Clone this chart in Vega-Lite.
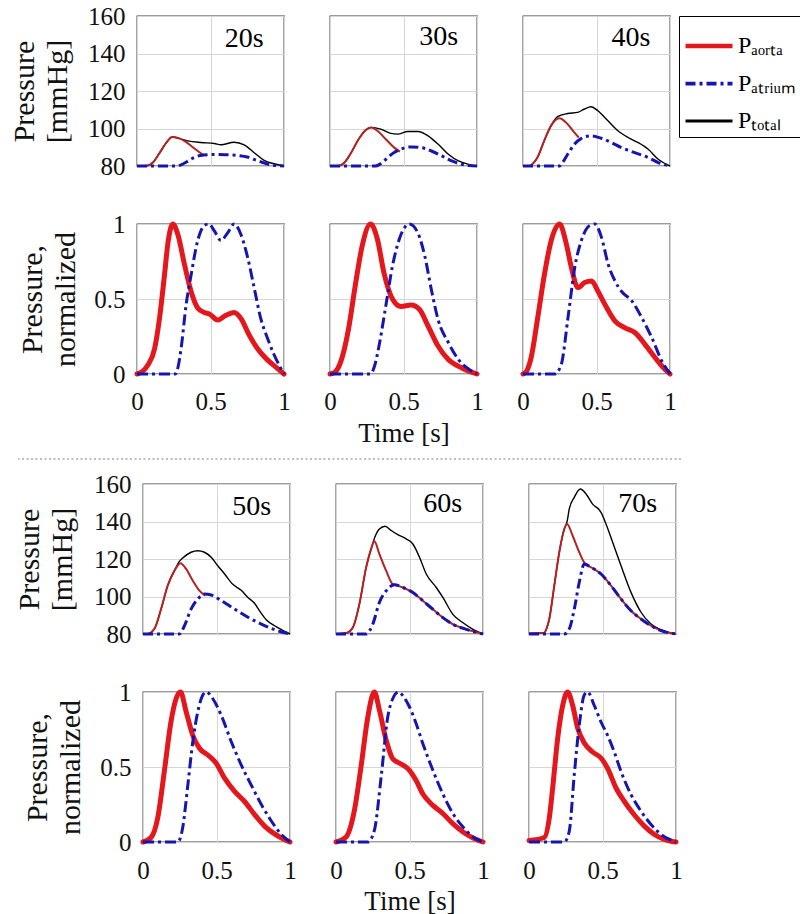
{
  "$schema": "https://vega.github.io/schema/vega-lite/v6.json",
  "background": "white",
  "padding": {"left": 7, "top": 3, "right": 2, "bottom": 0},
  "datasets": {
    "labels": [
      {"panel": "20s", "time": 0.73, "p": 147.5},
      {"panel": "30s", "time": 0.74, "p": 149},
      {"panel": "40s", "time": 0.735, "p": 148.2},
      {"panel": "50s", "time": 0.74, "p": 147.7},
      {"panel": "60s", "time": 0.726, "p": 149.5},
      {"panel": "70s", "time": 0.74, "p": 149.5}
    ],
    "a20": [
      {"series": "aorta", "time": 0, "p": 80}, {"series": "aorta", "time": 0.05, "p": 80}, {"series": "aorta", "time": 0.08, "p": 80.4}, {"series": "aorta", "time": 0.11, "p": 82}, {"series": "aorta", "time": 0.15, "p": 86.5}, {"series": "aorta", "time": 0.2, "p": 92.5}, {"series": "aorta", "time": 0.24, "p": 95.5}, {"series": "aorta", "time": 0.28, "p": 95}, {"series": "aorta", "time": 0.33, "p": 93}, {"series": "aorta", "time": 0.38, "p": 90}, {"series": "aorta", "time": 0.42, "p": 87.6}, {"series": "aorta", "time": 0.45, "p": 86},
      {"series": "total", "time": 0, "p": 80}, {"series": "total", "time": 0.05, "p": 80}, {"series": "total", "time": 0.08, "p": 80.4}, {"series": "total", "time": 0.11, "p": 82}, {"series": "total", "time": 0.15, "p": 86.5}, {"series": "total", "time": 0.2, "p": 92.5}, {"series": "total", "time": 0.24, "p": 95.5}, {"series": "total", "time": 0.29, "p": 94.6}, {"series": "total", "time": 0.345, "p": 93.4}, {"series": "total", "time": 0.436, "p": 92.5}, {"series": "total", "time": 0.526, "p": 92}, {"series": "total", "time": 0.571, "p": 91.3}, {"series": "total", "time": 0.661, "p": 92.7}, {"series": "total", "time": 0.729, "p": 91.3}, {"series": "total", "time": 0.797, "p": 87.1}, {"series": "total", "time": 0.865, "p": 83}, {"series": "total", "time": 0.932, "p": 81.2}, {"series": "total", "time": 1, "p": 80},
      {"series": "atrium", "time": 0, "p": 80}, {"series": "atrium", "time": 0.27, "p": 80}, {"series": "atrium", "time": 0.3, "p": 80.6}, {"series": "atrium", "time": 0.34, "p": 82.3}, {"series": "atrium", "time": 0.38, "p": 84.2}, {"series": "atrium", "time": 0.43, "p": 85.6}, {"series": "atrium", "time": 0.5, "p": 86.1}, {"series": "atrium", "time": 0.6, "p": 86}, {"series": "atrium", "time": 0.7, "p": 85.5}, {"series": "atrium", "time": 0.75, "p": 84.8}, {"series": "atrium", "time": 0.8, "p": 83.4}, {"series": "atrium", "time": 0.85, "p": 82}, {"series": "atrium", "time": 0.9, "p": 80.8}, {"series": "atrium", "time": 0.95, "p": 80.2}, {"series": "atrium", "time": 1, "p": 80}
    ],
    "n20": [
      {"series": "aorta", "time": 0, "p": 0}, {"series": "aorta", "time": 0.04, "p": 0.02}, {"series": "aorta", "time": 0.074, "p": 0.06}, {"series": "aorta", "time": 0.12, "p": 0.17}, {"series": "aorta", "time": 0.153, "p": 0.37}, {"series": "aorta", "time": 0.187, "p": 0.66}, {"series": "aorta", "time": 0.21, "p": 0.87}, {"series": "aorta", "time": 0.244, "p": 1}, {"series": "aorta", "time": 0.278, "p": 0.93}, {"series": "aorta", "time": 0.323, "p": 0.73}, {"series": "aorta", "time": 0.368, "p": 0.55}, {"series": "aorta", "time": 0.413, "p": 0.44}, {"series": "aorta", "time": 0.458, "p": 0.41}, {"series": "aorta", "time": 0.492, "p": 0.4}, {"series": "aorta", "time": 0.55, "p": 0.36}, {"series": "aorta", "time": 0.594, "p": 0.385}, {"series": "aorta", "time": 0.661, "p": 0.41}, {"series": "aorta", "time": 0.707, "p": 0.37}, {"series": "aorta", "time": 0.763, "p": 0.26}, {"series": "aorta", "time": 0.819, "p": 0.17}, {"series": "aorta", "time": 0.887, "p": 0.094}, {"series": "aorta", "time": 0.955, "p": 0.038}, {"series": "aorta", "time": 1, "p": 0},
      {"series": "atrium", "time": 0, "p": 0}, {"series": "atrium", "time": 0.26, "p": 0}, {"series": "atrium", "time": 0.28, "p": 0.05}, {"series": "atrium", "time": 0.3, "p": 0.17}, {"series": "atrium", "time": 0.334, "p": 0.46}, {"series": "atrium", "time": 0.368, "p": 0.66}, {"series": "atrium", "time": 0.413, "p": 0.89}, {"series": "atrium", "time": 0.458, "p": 0.99}, {"series": "atrium", "time": 0.49, "p": 1}, {"series": "atrium", "time": 0.526, "p": 0.955}, {"series": "atrium", "time": 0.571, "p": 0.89}, {"series": "atrium", "time": 0.616, "p": 0.94}, {"series": "atrium", "time": 0.661, "p": 1}, {"series": "atrium", "time": 0.707, "p": 0.93}, {"series": "atrium", "time": 0.752, "p": 0.78}, {"series": "atrium", "time": 0.797, "p": 0.575}, {"series": "atrium", "time": 0.842, "p": 0.37}, {"series": "atrium", "time": 0.887, "p": 0.24}, {"series": "atrium", "time": 0.932, "p": 0.13}, {"series": "atrium", "time": 0.977, "p": 0.04}, {"series": "atrium", "time": 1, "p": 0}
    ],
    "a30": [
      {"series": "aorta", "time": 0, "p": 80}, {"series": "aorta", "time": 0.05, "p": 80}, {"series": "aorta", "time": 0.07, "p": 80.3}, {"series": "aorta", "time": 0.1, "p": 82}, {"series": "aorta", "time": 0.138, "p": 86.3}, {"series": "aorta", "time": 0.195, "p": 94.3}, {"series": "aorta", "time": 0.241, "p": 99.1}, {"series": "aorta", "time": 0.28, "p": 100.6}, {"series": "aorta", "time": 0.322, "p": 98.8}, {"series": "aorta", "time": 0.38, "p": 94.3}, {"series": "aorta", "time": 0.437, "p": 89.8}, {"series": "aorta", "time": 0.476, "p": 87.7},
      {"series": "total", "time": 0, "p": 80}, {"series": "total", "time": 0.05, "p": 80}, {"series": "total", "time": 0.07, "p": 80.3}, {"series": "total", "time": 0.1, "p": 82}, {"series": "total", "time": 0.138, "p": 86.3}, {"series": "total", "time": 0.195, "p": 94.3}, {"series": "total", "time": 0.241, "p": 99.1}, {"series": "total", "time": 0.28, "p": 100.6}, {"series": "total", "time": 0.345, "p": 99.7}, {"series": "total", "time": 0.414, "p": 97.4}, {"series": "total", "time": 0.46, "p": 97}, {"series": "total", "time": 0.529, "p": 98.4}, {"series": "total", "time": 0.598, "p": 98.4}, {"series": "total", "time": 0.667, "p": 96.1}, {"series": "total", "time": 0.736, "p": 91.6}, {"series": "total", "time": 0.805, "p": 86.3}, {"series": "total", "time": 0.874, "p": 82.7}, {"series": "total", "time": 0.943, "p": 80.9}, {"series": "total", "time": 1, "p": 80},
      {"series": "atrium", "time": 0, "p": 80}, {"series": "atrium", "time": 0.31, "p": 80}, {"series": "atrium", "time": 0.34, "p": 81}, {"series": "atrium", "time": 0.368, "p": 82.7}, {"series": "atrium", "time": 0.425, "p": 86.6}, {"series": "atrium", "time": 0.483, "p": 89}, {"series": "atrium", "time": 0.552, "p": 90.2}, {"series": "atrium", "time": 0.62, "p": 89.8}, {"series": "atrium", "time": 0.69, "p": 88}, {"series": "atrium", "time": 0.759, "p": 85.4}, {"series": "atrium", "time": 0.828, "p": 82.7}, {"series": "atrium", "time": 0.897, "p": 80.9}, {"series": "atrium", "time": 0.95, "p": 80.2}, {"series": "atrium", "time": 1, "p": 80}
    ],
    "n30": [
      {"series": "aorta", "time": 0, "p": 0}, {"series": "aorta", "time": 0.03, "p": 0.01}, {"series": "aorta", "time": 0.069, "p": 0.07}, {"series": "aorta", "time": 0.126, "p": 0.3}, {"series": "aorta", "time": 0.172, "p": 0.59}, {"series": "aorta", "time": 0.218, "p": 0.85}, {"series": "aorta", "time": 0.276, "p": 1}, {"series": "aorta", "time": 0.322, "p": 0.9}, {"series": "aorta", "time": 0.368, "p": 0.67}, {"series": "aorta", "time": 0.425, "p": 0.5}, {"series": "aorta", "time": 0.483, "p": 0.45}, {"series": "aorta", "time": 0.552, "p": 0.46}, {"series": "aorta", "time": 0.609, "p": 0.43}, {"series": "aorta", "time": 0.667, "p": 0.32}, {"series": "aorta", "time": 0.736, "p": 0.185}, {"series": "aorta", "time": 0.805, "p": 0.096}, {"series": "aorta", "time": 0.897, "p": 0.04}, {"series": "aorta", "time": 1, "p": 0},
      {"series": "atrium", "time": 0, "p": 0}, {"series": "atrium", "time": 0.276, "p": 0}, {"series": "atrium", "time": 0.305, "p": 0.06}, {"series": "atrium", "time": 0.333, "p": 0.185}, {"series": "atrium", "time": 0.379, "p": 0.45}, {"series": "atrium", "time": 0.425, "p": 0.72}, {"series": "atrium", "time": 0.483, "p": 0.93}, {"series": "atrium", "time": 0.54, "p": 1}, {"series": "atrium", "time": 0.598, "p": 0.94}, {"series": "atrium", "time": 0.644, "p": 0.79}, {"series": "atrium", "time": 0.69, "p": 0.56}, {"series": "atrium", "time": 0.736, "p": 0.36}, {"series": "atrium", "time": 0.805, "p": 0.21}, {"series": "atrium", "time": 0.874, "p": 0.096}, {"series": "atrium", "time": 0.943, "p": 0.033}, {"series": "atrium", "time": 1, "p": 0}
    ],
    "a40": [
      {"series": "aorta", "time": 0, "p": 80}, {"series": "aorta", "time": 0.04, "p": 80}, {"series": "aorta", "time": 0.07, "p": 81.5}, {"series": "aorta", "time": 0.098, "p": 84.5}, {"series": "aorta", "time": 0.144, "p": 93.4}, {"series": "aorta", "time": 0.19, "p": 101.4}, {"series": "aorta", "time": 0.247, "p": 105.5}, {"series": "aorta", "time": 0.304, "p": 102.3}, {"series": "aorta", "time": 0.349, "p": 97.9}, {"series": "aorta", "time": 0.379, "p": 95.2},
      {"series": "total", "time": 0, "p": 80}, {"series": "total", "time": 0.04, "p": 80}, {"series": "total", "time": 0.07, "p": 81.5}, {"series": "total", "time": 0.098, "p": 84.5}, {"series": "total", "time": 0.144, "p": 93.4}, {"series": "total", "time": 0.19, "p": 101.4}, {"series": "total", "time": 0.235, "p": 106.3}, {"series": "total", "time": 0.304, "p": 108}, {"series": "total", "time": 0.372, "p": 108.6}, {"series": "total", "time": 0.418, "p": 110.4}, {"series": "total", "time": 0.463, "p": 111.6}, {"series": "total", "time": 0.509, "p": 109.5}, {"series": "total", "time": 0.578, "p": 104.1}, {"series": "total", "time": 0.646, "p": 98.8}, {"series": "total", "time": 0.715, "p": 95.2}, {"series": "total", "time": 0.783, "p": 92.5}, {"series": "total", "time": 0.852, "p": 88.9}, {"series": "total", "time": 0.92, "p": 83.6}, {"series": "total", "time": 1, "p": 80},
      {"series": "atrium", "time": 0, "p": 80}, {"series": "atrium", "time": 0.247, "p": 80}, {"series": "atrium", "time": 0.275, "p": 82.5}, {"series": "atrium", "time": 0.304, "p": 86.25}, {"series": "atrium", "time": 0.349, "p": 91.6}, {"series": "atrium", "time": 0.395, "p": 94.6}, {"series": "atrium", "time": 0.463, "p": 96.1}, {"series": "atrium", "time": 0.532, "p": 94.8}, {"series": "atrium", "time": 0.6, "p": 92.5}, {"series": "atrium", "time": 0.669, "p": 89.8}, {"series": "atrium", "time": 0.76, "p": 87.1}, {"series": "atrium", "time": 0.852, "p": 84.5}, {"series": "atrium", "time": 0.92, "p": 81.8}, {"series": "atrium", "time": 1, "p": 80}
    ],
    "n40": [
      {"series": "aorta", "time": 0, "p": 0}, {"series": "aorta", "time": 0.025, "p": 0.02}, {"series": "aorta", "time": 0.055, "p": 0.107}, {"series": "aorta", "time": 0.1, "p": 0.375}, {"series": "aorta", "time": 0.146, "p": 0.665}, {"series": "aorta", "time": 0.192, "p": 0.89}, {"series": "aorta", "time": 0.249, "p": 1}, {"series": "aorta", "time": 0.294, "p": 0.87}, {"series": "aorta", "time": 0.329, "p": 0.71}, {"series": "aorta", "time": 0.374, "p": 0.576}, {"series": "aorta", "time": 0.42, "p": 0.61}, {"series": "aorta", "time": 0.466, "p": 0.62}, {"series": "aorta", "time": 0.511, "p": 0.55}, {"series": "aorta", "time": 0.557, "p": 0.464}, {"series": "aorta", "time": 0.626, "p": 0.353}, {"series": "aorta", "time": 0.694, "p": 0.308}, {"series": "aorta", "time": 0.763, "p": 0.275}, {"series": "aorta", "time": 0.831, "p": 0.196}, {"series": "aorta", "time": 0.9, "p": 0.107}, {"series": "aorta", "time": 0.957, "p": 0.04}, {"series": "aorta", "time": 1, "p": 0},
      {"series": "atrium", "time": 0, "p": 0}, {"series": "atrium", "time": 0.215, "p": 0}, {"series": "atrium", "time": 0.26, "p": 0.0625}, {"series": "atrium", "time": 0.306, "p": 0.375}, {"series": "atrium", "time": 0.352, "p": 0.71}, {"series": "atrium", "time": 0.397, "p": 0.89}, {"series": "atrium", "time": 0.454, "p": 0.99}, {"series": "atrium", "time": 0.489, "p": 1}, {"series": "atrium", "time": 0.534, "p": 0.91}, {"series": "atrium", "time": 0.58, "p": 0.73}, {"series": "atrium", "time": 0.626, "p": 0.62}, {"series": "atrium", "time": 0.671, "p": 0.55}, {"series": "atrium", "time": 0.74, "p": 0.487}, {"series": "atrium", "time": 0.808, "p": 0.375}, {"series": "atrium", "time": 0.877, "p": 0.24}, {"series": "atrium", "time": 0.945, "p": 0.085}, {"series": "atrium", "time": 1, "p": 0}
    ],
    "a50": [
      {"series": "aorta", "time": 0, "p": 80}, {"series": "aorta", "time": 0.03, "p": 80}, {"series": "aorta", "time": 0.077, "p": 82.7}, {"series": "aorta", "time": 0.123, "p": 93.3}, {"series": "aorta", "time": 0.168, "p": 105.8}, {"series": "aorta", "time": 0.214, "p": 113.8}, {"series": "aorta", "time": 0.255, "p": 117.7}, {"series": "aorta", "time": 0.293, "p": 114.7}, {"series": "aorta", "time": 0.339, "p": 108.4}, {"series": "aorta", "time": 0.384, "p": 103.1}, {"series": "aorta", "time": 0.423, "p": 100.4},
      {"series": "total", "time": 0, "p": 80}, {"series": "total", "time": 0.03, "p": 80}, {"series": "total", "time": 0.077, "p": 82.7}, {"series": "total", "time": 0.123, "p": 93.3}, {"series": "total", "time": 0.168, "p": 105.8}, {"series": "total", "time": 0.214, "p": 113.8}, {"series": "total", "time": 0.245, "p": 118.5}, {"series": "total", "time": 0.27, "p": 120.5}, {"series": "total", "time": 0.327, "p": 123.6}, {"series": "total", "time": 0.373, "p": 124.4}, {"series": "total", "time": 0.418, "p": 123.6}, {"series": "total", "time": 0.464, "p": 120.9}, {"series": "total", "time": 0.509, "p": 116.4}, {"series": "total", "time": 0.555, "p": 112}, {"series": "total", "time": 0.611, "p": 106.5}, {"series": "total", "time": 0.668, "p": 103.3}, {"series": "total", "time": 0.714, "p": 99.5}, {"series": "total", "time": 0.757, "p": 96.5}, {"series": "total", "time": 0.8, "p": 91.5}, {"series": "total", "time": 0.84, "p": 87.5}, {"series": "total", "time": 0.895, "p": 84.4}, {"series": "total", "time": 0.95, "p": 82}, {"series": "total", "time": 1, "p": 80},
      {"series": "atrium", "time": 0, "p": 80}, {"series": "atrium", "time": 0.248, "p": 80}, {"series": "atrium", "time": 0.282, "p": 84.4}, {"series": "atrium", "time": 0.327, "p": 93.3}, {"series": "atrium", "time": 0.373, "p": 98.7}, {"series": "atrium", "time": 0.418, "p": 101.3}, {"series": "atrium", "time": 0.464, "p": 100.8}, {"series": "atrium", "time": 0.532, "p": 97.8}, {"series": "atrium", "time": 0.623, "p": 93.3}, {"series": "atrium", "time": 0.714, "p": 88.9}, {"series": "atrium", "time": 0.805, "p": 85.3}, {"series": "atrium", "time": 0.895, "p": 82.3}, {"series": "atrium", "time": 1, "p": 80}
    ],
    "n50": [
      {"series": "aorta", "time": 0, "p": 0}, {"series": "aorta", "time": 0.055, "p": 0.03}, {"series": "aorta", "time": 0.1, "p": 0.16}, {"series": "aorta", "time": 0.145, "p": 0.47}, {"series": "aorta", "time": 0.19, "p": 0.8}, {"series": "aorta", "time": 0.225, "p": 0.955}, {"series": "aorta", "time": 0.255, "p": 1}, {"series": "aorta", "time": 0.293, "p": 0.87}, {"series": "aorta", "time": 0.339, "p": 0.71}, {"series": "aorta", "time": 0.384, "p": 0.625}, {"series": "aorta", "time": 0.441, "p": 0.58}, {"series": "aorta", "time": 0.498, "p": 0.525}, {"series": "aorta", "time": 0.555, "p": 0.426}, {"series": "aorta", "time": 0.623, "p": 0.338}, {"series": "aorta", "time": 0.691, "p": 0.27}, {"series": "aorta", "time": 0.759, "p": 0.183}, {"series": "aorta", "time": 0.827, "p": 0.106}, {"series": "aorta", "time": 0.918, "p": 0.04}, {"series": "aorta", "time": 1, "p": 0},
      {"series": "atrium", "time": 0, "p": 0}, {"series": "atrium", "time": 0.236, "p": 0}, {"series": "atrium", "time": 0.27, "p": 0.095}, {"series": "atrium", "time": 0.305, "p": 0.38}, {"series": "atrium", "time": 0.339, "p": 0.67}, {"series": "atrium", "time": 0.373, "p": 0.87}, {"series": "atrium", "time": 0.407, "p": 0.98}, {"series": "atrium", "time": 0.43, "p": 1}, {"series": "atrium", "time": 0.475, "p": 0.955}, {"series": "atrium", "time": 0.532, "p": 0.845}, {"series": "atrium", "time": 0.6, "p": 0.67}, {"series": "atrium", "time": 0.668, "p": 0.514}, {"series": "atrium", "time": 0.736, "p": 0.38}, {"series": "atrium", "time": 0.805, "p": 0.25}, {"series": "atrium", "time": 0.873, "p": 0.14}, {"series": "atrium", "time": 0.941, "p": 0.05}, {"series": "atrium", "time": 1, "p": 0}
    ],
    "a60": [
      {"series": "aorta", "time": 0, "p": 80}, {"series": "aorta", "time": 0.068, "p": 80.5}, {"series": "aorta", "time": 0.114, "p": 83.4}, {"series": "aorta", "time": 0.159, "p": 95.9}, {"series": "aorta", "time": 0.205, "p": 115.5}, {"series": "aorta", "time": 0.239, "p": 125.4}, {"series": "aorta", "time": 0.261, "p": 129.5}, {"series": "aorta", "time": 0.295, "p": 122.7}, {"series": "aorta", "time": 0.341, "p": 113.8}, {"series": "aorta", "time": 0.386, "p": 106.6}, {"series": "aorta", "time": 0.398, "p": 106.3}, {"series": "aorta", "time": 0.455, "p": 104.8}, {"series": "aorta", "time": 0.523, "p": 102.1}, {"series": "aorta", "time": 0.591, "p": 97.7}, {"series": "aorta", "time": 0.659, "p": 93.2}, {"series": "aorta", "time": 0.727, "p": 88.75}, {"series": "aorta", "time": 0.795, "p": 85.2}, {"series": "aorta", "time": 0.886, "p": 82.5}, {"series": "aorta", "time": 1, "p": 80},
      {"series": "total", "time": 0, "p": 80}, {"series": "total", "time": 0.068, "p": 80.5}, {"series": "total", "time": 0.114, "p": 83.4}, {"series": "total", "time": 0.159, "p": 95.9}, {"series": "total", "time": 0.205, "p": 115.5}, {"series": "total", "time": 0.239, "p": 125.4}, {"series": "total", "time": 0.261, "p": 131}, {"series": "total", "time": 0.295, "p": 136}, {"series": "total", "time": 0.334, "p": 137.5}, {"series": "total", "time": 0.375, "p": 135.2}, {"series": "total", "time": 0.42, "p": 133}, {"series": "total", "time": 0.477, "p": 130.7}, {"series": "total", "time": 0.523, "p": 128}, {"series": "total", "time": 0.568, "p": 120.9}, {"series": "total", "time": 0.614, "p": 112}, {"series": "total", "time": 0.682, "p": 104.8}, {"series": "total", "time": 0.727, "p": 99.5}, {"series": "total", "time": 0.795, "p": 90.5}, {"series": "total", "time": 0.864, "p": 86}, {"series": "total", "time": 0.932, "p": 82.5}, {"series": "total", "time": 1, "p": 80},
      {"series": "atrium", "time": 0, "p": 80}, {"series": "atrium", "time": 0.205, "p": 80}, {"series": "atrium", "time": 0.25, "p": 85.2}, {"series": "atrium", "time": 0.295, "p": 96.8}, {"series": "atrium", "time": 0.341, "p": 103}, {"series": "atrium", "time": 0.398, "p": 106.3}, {"series": "atrium", "time": 0.455, "p": 104.8}, {"series": "atrium", "time": 0.523, "p": 102.1}, {"series": "atrium", "time": 0.591, "p": 97.7}, {"series": "atrium", "time": 0.659, "p": 93.2}, {"series": "atrium", "time": 0.727, "p": 88.75}, {"series": "atrium", "time": 0.795, "p": 85.2}, {"series": "atrium", "time": 0.886, "p": 82.5}, {"series": "atrium", "time": 1, "p": 80}
    ],
    "n60": [
      {"series": "aorta", "time": 0, "p": 0}, {"series": "aorta", "time": 0.068, "p": 0.033}, {"series": "aorta", "time": 0.125, "p": 0.21}, {"series": "aorta", "time": 0.17, "p": 0.5}, {"series": "aorta", "time": 0.216, "p": 0.83}, {"series": "aorta", "time": 0.261, "p": 1}, {"series": "aorta", "time": 0.295, "p": 0.88}, {"series": "aorta", "time": 0.341, "p": 0.68}, {"series": "aorta", "time": 0.386, "p": 0.555}, {"series": "aorta", "time": 0.443, "p": 0.52}, {"series": "aorta", "time": 0.5, "p": 0.478}, {"series": "aorta", "time": 0.545, "p": 0.41}, {"series": "aorta", "time": 0.591, "p": 0.32}, {"series": "aorta", "time": 0.659, "p": 0.244}, {"series": "aorta", "time": 0.727, "p": 0.19}, {"series": "aorta", "time": 0.795, "p": 0.122}, {"series": "aorta", "time": 0.864, "p": 0.067}, {"series": "aorta", "time": 0.932, "p": 0.027}, {"series": "aorta", "time": 1, "p": 0},
      {"series": "atrium", "time": 0, "p": 0}, {"series": "atrium", "time": 0.216, "p": 0}, {"series": "atrium", "time": 0.261, "p": 0.078}, {"series": "atrium", "time": 0.307, "p": 0.433}, {"series": "atrium", "time": 0.352, "p": 0.833}, {"series": "atrium", "time": 0.386, "p": 0.955}, {"series": "atrium", "time": 0.425, "p": 1}, {"series": "atrium", "time": 0.455, "p": 0.975}, {"series": "atrium", "time": 0.5, "p": 0.9}, {"series": "atrium", "time": 0.545, "p": 0.79}, {"series": "atrium", "time": 0.591, "p": 0.655}, {"series": "atrium", "time": 0.659, "p": 0.478}, {"series": "atrium", "time": 0.727, "p": 0.32}, {"series": "atrium", "time": 0.795, "p": 0.19}, {"series": "atrium", "time": 0.864, "p": 0.1}, {"series": "atrium", "time": 0.932, "p": 0.033}, {"series": "atrium", "time": 1, "p": 0}
    ],
    "a70": [
      {"series": "aorta", "time": 0, "p": 80.3}, {"series": "aorta", "time": 0.1, "p": 80.5}, {"series": "aorta", "time": 0.12, "p": 83}, {"series": "aorta", "time": 0.138, "p": 88}, {"series": "aorta", "time": 0.172, "p": 105.8}, {"series": "aorta", "time": 0.206, "p": 123.6}, {"series": "aorta", "time": 0.24, "p": 136}, {"series": "aorta", "time": 0.259, "p": 138.7}, {"series": "aorta", "time": 0.297, "p": 132.4}, {"series": "aorta", "time": 0.342, "p": 123.6}, {"series": "aorta", "time": 0.383, "p": 117.3}, {"series": "aorta", "time": 0.422, "p": 115.6}, {"series": "aorta", "time": 0.49, "p": 112}, {"series": "aorta", "time": 0.558, "p": 105.8}, {"series": "aorta", "time": 0.626, "p": 98.7}, {"series": "aorta", "time": 0.694, "p": 92.4}, {"series": "aorta", "time": 0.762, "p": 88}, {"series": "aorta", "time": 0.83, "p": 84.4}, {"series": "aorta", "time": 0.898, "p": 81.8}, {"series": "aorta", "time": 1, "p": 80},
      {"series": "total", "time": 0, "p": 80.3}, {"series": "total", "time": 0.1, "p": 80.5}, {"series": "total", "time": 0.12, "p": 83}, {"series": "total", "time": 0.138, "p": 88}, {"series": "total", "time": 0.172, "p": 105.8}, {"series": "total", "time": 0.206, "p": 123.6}, {"series": "total", "time": 0.24, "p": 136}, {"series": "total", "time": 0.259, "p": 140}, {"series": "total", "time": 0.274, "p": 146.7}, {"series": "total", "time": 0.308, "p": 152.9}, {"series": "total", "time": 0.349, "p": 157.3}, {"series": "total", "time": 0.388, "p": 154.7}, {"series": "total", "time": 0.433, "p": 149.3}, {"series": "total", "time": 0.49, "p": 144.9}, {"series": "total", "time": 0.524, "p": 138.7}, {"series": "total", "time": 0.569, "p": 128.9}, {"series": "total", "time": 0.626, "p": 116.4}, {"series": "total", "time": 0.694, "p": 102.2}, {"series": "total", "time": 0.762, "p": 91.6}, {"series": "total", "time": 0.83, "p": 85.3}, {"series": "total", "time": 0.898, "p": 82.3}, {"series": "total", "time": 1, "p": 80},
      {"series": "atrium", "time": 0, "p": 80}, {"series": "atrium", "time": 0.24, "p": 80}, {"series": "atrium", "time": 0.274, "p": 82.7}, {"series": "atrium", "time": 0.308, "p": 93.3}, {"series": "atrium", "time": 0.342, "p": 107.6}, {"series": "atrium", "time": 0.376, "p": 117.3}, {"series": "atrium", "time": 0.422, "p": 115.6}, {"series": "atrium", "time": 0.49, "p": 112}, {"series": "atrium", "time": 0.558, "p": 105.8}, {"series": "atrium", "time": 0.626, "p": 98.7}, {"series": "atrium", "time": 0.694, "p": 92.4}, {"series": "atrium", "time": 0.762, "p": 88}, {"series": "atrium", "time": 0.83, "p": 84.4}, {"series": "atrium", "time": 0.898, "p": 81.8}, {"series": "atrium", "time": 1, "p": 80}
    ],
    "n70": [
      {"series": "aorta", "time": 0, "p": 0.01}, {"series": "aorta", "time": 0.104, "p": 0.03}, {"series": "aorta", "time": 0.138, "p": 0.16}, {"series": "aorta", "time": 0.161, "p": 0.36}, {"series": "aorta", "time": 0.195, "p": 0.69}, {"series": "aorta", "time": 0.229, "p": 0.91}, {"series": "aorta", "time": 0.263, "p": 1}, {"series": "aorta", "time": 0.297, "p": 0.91}, {"series": "aorta", "time": 0.331, "p": 0.76}, {"series": "aorta", "time": 0.376, "p": 0.66}, {"series": "aorta", "time": 0.433, "p": 0.6}, {"series": "aorta", "time": 0.49, "p": 0.56}, {"series": "aorta", "time": 0.535, "p": 0.49}, {"series": "aorta", "time": 0.592, "p": 0.36}, {"series": "aorta", "time": 0.649, "p": 0.27}, {"series": "aorta", "time": 0.717, "p": 0.18}, {"series": "aorta", "time": 0.785, "p": 0.106}, {"series": "aorta", "time": 0.853, "p": 0.05}, {"series": "aorta", "time": 0.92, "p": 0.018}, {"series": "aorta", "time": 1, "p": 0},
      {"series": "atrium", "time": 0, "p": 0}, {"series": "atrium", "time": 0.24, "p": 0}, {"series": "atrium", "time": 0.274, "p": 0.073}, {"series": "atrium", "time": 0.308, "p": 0.45}, {"series": "atrium", "time": 0.342, "p": 0.78}, {"series": "atrium", "time": 0.376, "p": 0.98}, {"series": "atrium", "time": 0.399, "p": 1}, {"series": "atrium", "time": 0.444, "p": 0.91}, {"series": "atrium", "time": 0.49, "p": 0.8}, {"series": "atrium", "time": 0.535, "p": 0.71}, {"series": "atrium", "time": 0.58, "p": 0.6}, {"series": "atrium", "time": 0.626, "p": 0.47}, {"series": "atrium", "time": 0.694, "p": 0.316}, {"series": "atrium", "time": 0.762, "p": 0.205}, {"series": "atrium", "time": 0.83, "p": 0.117}, {"series": "atrium", "time": 0.898, "p": 0.05}, {"series": "atrium", "time": 1, "p": 0}
    ]
  },
  "spacing": 11,
  "vconcat": [
    {
      "spacing": 31,
      "vconcat": [
        {
          "spacing": 0,
          "hconcat": [
            {"width": 1, "height": 10, "data": {"values": []}, "mark": {"type": "point", "opacity": 0}, "view": {"stroke": null}},
            {
              "spacing": 32,
              "hconcat": [
                {
                  "width": 147, "height": 150,
                  "data": {"name": "a20"},
                  "encoding": {
                    "x": {"field": "time", "type": "quantitative", "scale": {"domain": [0, 1]}, "axis": {"values": [0, 0.5, 1], "labels": false, "title": null}},
                    "y": {"field": "p", "type": "quantitative", "scale": {"domain": [80, 160]}, "axis": {"values": [80, 100, 120, 140, 160], "format": "d", "labelPadding": 12, "title": ["Pressure", "[mmHg]"], "titleX": -128, "titleBaseline": "top", "titleFontSize": 30}}
                  },
                  "layer": [
                    {"transform": [{"filter": "datum.series == 'total'"}], "mark": {"type": "line", "color": "#000000", "strokeWidth": 1.4}, "encoding": {}},
                    {"transform": [{"filter": "datum.series == 'aorta'"}], "mark": {"type": "line", "color": "#b52222", "strokeWidth": 2}, "encoding": {}},
                    {"transform": [{"filter": "datum.series == 'atrium'"}], "mark": {"type": "line", "color": "#1515b0", "strokeWidth": 3, "strokeDash": [10, 4, 3, 4]}, "encoding": {}},
                    {"data": {"name": "labels"}, "transform": [{"filter": "datum.panel == '20s'"}], "mark": {"type": "text", "fontSize": 28, "color": "#000000"}, "encoding": {"text": {"field": "panel"}}}
                  ]
                },
                {
                  "width": 147, "height": 150,
                  "data": {"name": "a30"},
                  "encoding": {
                    "x": {"field": "time", "type": "quantitative", "scale": {"domain": [0, 1]}, "axis": {"values": [0, 0.5, 1], "labels": false, "title": null}},
                    "y": {"field": "p", "type": "quantitative", "scale": {"domain": [80, 160]}, "axis": {"values": [80, 100, 120, 140, 160], "labels": false, "title": null}}
                  },
                  "layer": [
                    {"transform": [{"filter": "datum.series == 'total'"}], "mark": {"type": "line", "color": "#000000", "strokeWidth": 1.4}, "encoding": {}},
                    {"transform": [{"filter": "datum.series == 'aorta'"}], "mark": {"type": "line", "color": "#b52222", "strokeWidth": 2}, "encoding": {}},
                    {"transform": [{"filter": "datum.series == 'atrium'"}], "mark": {"type": "line", "color": "#1515b0", "strokeWidth": 3, "strokeDash": [10, 4, 3, 4]}, "encoding": {}},
                    {"data": {"name": "labels"}, "transform": [{"filter": "datum.panel == '30s'"}], "mark": {"type": "text", "fontSize": 28, "color": "#000000"}, "encoding": {"text": {"field": "panel"}}}
                  ]
                },
                {
                  "width": 147, "height": 150,
                  "data": {"name": "a40"},
                  "encoding": {
                    "x": {"field": "time", "type": "quantitative", "scale": {"domain": [0, 1]}, "axis": {"values": [0, 0.5, 1], "labels": false, "title": null}},
                    "y": {"field": "p", "type": "quantitative", "scale": {"domain": [80, 160]}, "axis": {"values": [80, 100, 120, 140, 160], "labels": false, "title": null}}
                  },
                  "layer": [
                    {
                      "transform": [{"filter": "datum.series == 'total'"}],
                      "mark": {"type": "line", "opacity": 0},
                      "encoding": {
                        "color": {
                          "field": "series", "type": "nominal",
                          "scale": {"domain": ["aorta", "atrium", "total"], "range": ["#e3171c", "#1515b0", "#000000"]},
                          "legend": {
                            "title": null, "orient": "none", "legendX": 672, "legendY": 0,
                            "symbolType": "stroke", "symbolSize": 2209, "symbolOpacity": 1, "padding": 4, "rowPadding": 0, "labelOffset": 3,
                            "labelFont": "Liberation Serif", "labelFontSize": 24, "labelColor": "#000000",
                            "strokeColor": "#000000", "fillColor": "#ffffff",
                            "labelExpr": "datum.value === 'aorta' ? 'Pₐₒᵣₜₐ' : datum.value === 'atrium' ? 'Pₐₜᵣᵢᵤₘ' : 'Pₜₒₜₐₗ'"
                          }
                        },
                        "strokeDash": {
                          "field": "series", "type": "nominal",
                          "scale": {"domain": ["aorta", "atrium", "total"], "range": [[1, 0], [10, 4, 3, 4], [1, 0]]},
                          "legend": {
                            "title": null, "orient": "none", "legendX": 672, "legendY": 0,
                            "symbolType": "stroke", "symbolSize": 2209, "symbolOpacity": 1, "padding": 4, "rowPadding": 0, "labelOffset": 3,
                            "labelFont": "Liberation Serif", "labelFontSize": 24, "labelColor": "#000000",
                            "strokeColor": "#000000", "fillColor": "#ffffff",
                            "labelExpr": "datum.value === 'aorta' ? 'Pₐₒᵣₜₐ' : datum.value === 'atrium' ? 'Pₐₜᵣᵢᵤₘ' : 'Pₜₒₜₐₗ'"
                          }
                        },
                        "strokeWidth": {
                          "field": "series", "type": "nominal",
                          "scale": {"domain": ["aorta", "atrium", "total"], "range": [4.5, 3, 1.4]},
                          "legend": {
                            "title": null, "orient": "none", "legendX": 672, "legendY": 0,
                            "symbolType": "stroke", "symbolSize": 2209, "symbolOpacity": 1, "padding": 4, "rowPadding": 0, "labelOffset": 3,
                            "labelFont": "Liberation Serif", "labelFontSize": 24, "labelColor": "#000000",
                            "strokeColor": "#000000", "fillColor": "#ffffff",
                            "labelExpr": "datum.value === 'aorta' ? 'Pₐₒᵣₜₐ' : datum.value === 'atrium' ? 'Pₐₜᵣᵢᵤₘ' : 'Pₜₒₜₐₗ'"
                          }
                        }
                      }
                    },
                    {"transform": [{"filter": "datum.series == 'total'"}], "mark": {"type": "line", "color": "#000000", "strokeWidth": 1.4}, "encoding": {}},
                    {"transform": [{"filter": "datum.series == 'aorta'"}], "mark": {"type": "line", "color": "#b52222", "strokeWidth": 2}, "encoding": {}},
                    {"transform": [{"filter": "datum.series == 'atrium'"}], "mark": {"type": "line", "color": "#1515b0", "strokeWidth": 3, "strokeDash": [10, 4, 3, 4]}, "encoding": {}},
                    {"data": {"name": "labels"}, "transform": [{"filter": "datum.panel == '40s'"}], "mark": {"type": "text", "fontSize": 28, "color": "#000000"}, "encoding": {"text": {"field": "panel"}}}
                  ]
                }
              ]
            }
          ]
        },
        {
          "spacing": 0,
          "hconcat": [
            {"width": 9, "height": 10, "data": {"values": []}, "mark": {"type": "point", "opacity": 0}, "view": {"stroke": null}},
            {
              "spacing": 32,
              "hconcat": [
                {
                  "width": 147, "height": 150,
                  "data": {"name": "n20"},
                  "encoding": {
                    "x": {"field": "time", "type": "quantitative", "scale": {"domain": [0, 1]}, "axis": {"values": [0, 0.5, 1], "format": "~g", "labelPadding": 15, "labelFlush": false, "title": null}},
                    "y": {"field": "p", "type": "quantitative", "scale": {"domain": [0, 1]}, "axis": {"values": [0, 0.5, 1], "format": "~g", "labelPadding": 12, "title": ["Pressure,", "normalized"], "titleX": -120, "titleBaseline": "top", "titleFontSize": 30}}
                  },
                  "layer": [
                    {"transform": [{"filter": "datum.series == 'aorta'"}], "mark": {"type": "line", "color": "#e3171c", "strokeWidth": 5, "strokeCap": "round", "strokeJoin": "round"}, "encoding": {}},
                    {"transform": [{"filter": "datum.series == 'atrium'"}], "mark": {"type": "line", "color": "#1515b0", "strokeWidth": 3, "strokeDash": [11, 4, 3, 4]}, "encoding": {}}
                  ]
                },
                {
                  "width": 147, "height": 150,
                  "data": {"name": "n30"},
                  "encoding": {
                    "x": {"field": "time", "type": "quantitative", "scale": {"domain": [0, 1]}, "axis": {"values": [0, 0.5, 1], "format": "~g", "labelPadding": 15, "labelFlush": false, "title": "Time [s]", "titleY": 46, "titleBaseline": "top", "titleFontSize": 27}},
                    "y": {"field": "p", "type": "quantitative", "scale": {"domain": [0, 1]}, "axis": {"values": [0, 0.5, 1], "labels": false, "title": null}}
                  },
                  "layer": [
                    {"transform": [{"filter": "datum.series == 'aorta'"}], "mark": {"type": "line", "color": "#e3171c", "strokeWidth": 5, "strokeCap": "round", "strokeJoin": "round"}, "encoding": {}},
                    {"transform": [{"filter": "datum.series == 'atrium'"}], "mark": {"type": "line", "color": "#1515b0", "strokeWidth": 3, "strokeDash": [11, 4, 3, 4]}, "encoding": {}}
                  ]
                },
                {
                  "width": 147, "height": 150,
                  "data": {"name": "n40"},
                  "encoding": {
                    "x": {"field": "time", "type": "quantitative", "scale": {"domain": [0, 1]}, "axis": {"values": [0, 0.5, 1], "format": "~g", "labelPadding": 15, "labelFlush": false, "title": null}},
                    "y": {"field": "p", "type": "quantitative", "scale": {"domain": [0, 1]}, "axis": {"values": [0, 0.5, 1], "labels": false, "title": null}}
                  },
                  "layer": [
                    {"transform": [{"filter": "datum.series == 'aorta'"}], "mark": {"type": "line", "color": "#e3171c", "strokeWidth": 5, "strokeCap": "round", "strokeJoin": "round"}, "encoding": {}},
                    {"transform": [{"filter": "datum.series == 'atrium'"}], "mark": {"type": "line", "color": "#1515b0", "strokeWidth": 3, "strokeDash": [11, 4, 3, 4]}, "encoding": {}}
                  ]
                }
              ]
            }
          ]
        }
      ]
    },
    {
      "spacing": 0,
      "hconcat": [
        {"width": 10, "height": 1, "data": {"values": []}, "mark": {"type": "point", "opacity": 0}, "view": {"stroke": null}},
        {
          "width": 663, "height": 1,
          "data": {"values": [{}]},
          "mark": {"type": "rule", "color": "#a8a8a8", "strokeWidth": 1.5, "strokeDash": [2, 2.5]},
          "encoding": {"y": {"datum": 1, "type": "quantitative", "scale": {"domain": [0, 1]}, "axis": null}},
          "view": {"stroke": null}
        }
      ]
    },
    {
      "spacing": 31,
      "vconcat": [
        {
          "spacing": 0,
          "hconcat": [
            {"width": 6, "height": 10, "data": {"values": []}, "mark": {"type": "point", "opacity": 0}, "view": {"stroke": null}},
            {
              "spacing": 32,
              "hconcat": [
                {
                  "width": 147, "height": 150,
                  "data": {"name": "a50"},
                  "encoding": {
                    "x": {"field": "time", "type": "quantitative", "scale": {"domain": [0, 1]}, "axis": {"values": [0, 0.5, 1], "labels": false, "title": null}},
                    "y": {"field": "p", "type": "quantitative", "scale": {"domain": [80, 160]}, "axis": {"values": [80, 100, 120, 140, 160], "format": "d", "labelPadding": 12, "title": ["Pressure", "[mmHg]"], "titleX": -129, "titleBaseline": "top", "titleFontSize": 30}}
                  },
                  "layer": [
                    {"transform": [{"filter": "datum.series == 'total'"}], "mark": {"type": "line", "color": "#000000", "strokeWidth": 1.4}, "encoding": {}},
                    {"transform": [{"filter": "datum.series == 'aorta'"}], "mark": {"type": "line", "color": "#b52222", "strokeWidth": 2}, "encoding": {}},
                    {"transform": [{"filter": "datum.series == 'atrium'"}], "mark": {"type": "line", "color": "#1515b0", "strokeWidth": 3, "strokeDash": [10, 4, 3, 4]}, "encoding": {}},
                    {"data": {"name": "labels"}, "transform": [{"filter": "datum.panel == '50s'"}], "mark": {"type": "text", "fontSize": 28, "color": "#000000"}, "encoding": {"text": {"field": "panel"}}}
                  ]
                },
                {
                  "width": 147, "height": 150,
                  "data": {"name": "a60"},
                  "encoding": {
                    "x": {"field": "time", "type": "quantitative", "scale": {"domain": [0, 1]}, "axis": {"values": [0, 0.5, 1], "labels": false, "title": null}},
                    "y": {"field": "p", "type": "quantitative", "scale": {"domain": [80, 160]}, "axis": {"values": [80, 100, 120, 140, 160], "labels": false, "title": null}}
                  },
                  "layer": [
                    {"transform": [{"filter": "datum.series == 'total'"}], "mark": {"type": "line", "color": "#000000", "strokeWidth": 1.4}, "encoding": {}},
                    {"transform": [{"filter": "datum.series == 'aorta'"}], "mark": {"type": "line", "color": "#b52222", "strokeWidth": 2}, "encoding": {}},
                    {"transform": [{"filter": "datum.series == 'atrium'"}], "mark": {"type": "line", "color": "#1515b0", "strokeWidth": 3, "strokeDash": [10, 4, 3, 4]}, "encoding": {}},
                    {"data": {"name": "labels"}, "transform": [{"filter": "datum.panel == '60s'"}], "mark": {"type": "text", "fontSize": 28, "color": "#000000"}, "encoding": {"text": {"field": "panel"}}}
                  ]
                },
                {
                  "width": 147, "height": 150,
                  "data": {"name": "a70"},
                  "encoding": {
                    "x": {"field": "time", "type": "quantitative", "scale": {"domain": [0, 1]}, "axis": {"values": [0, 0.5, 1], "labels": false, "title": null}},
                    "y": {"field": "p", "type": "quantitative", "scale": {"domain": [80, 160]}, "axis": {"values": [80, 100, 120, 140, 160], "labels": false, "title": null}}
                  },
                  "layer": [
                    {"transform": [{"filter": "datum.series == 'total'"}], "mark": {"type": "line", "color": "#000000", "strokeWidth": 1.4}, "encoding": {}},
                    {"transform": [{"filter": "datum.series == 'aorta'"}], "mark": {"type": "line", "color": "#b52222", "strokeWidth": 2}, "encoding": {}},
                    {"transform": [{"filter": "datum.series == 'atrium'"}], "mark": {"type": "line", "color": "#1515b0", "strokeWidth": 3, "strokeDash": [10, 4, 3, 4]}, "encoding": {}},
                    {"data": {"name": "labels"}, "transform": [{"filter": "datum.panel == '70s'"}], "mark": {"type": "text", "fontSize": 28, "color": "#000000"}, "encoding": {"text": {"field": "panel"}}}
                  ]
                }
              ]
            }
          ]
        },
        {
          "spacing": 0,
          "hconcat": [
            {"width": 14, "height": 10, "data": {"values": []}, "mark": {"type": "point", "opacity": 0}, "view": {"stroke": null}},
            {
              "spacing": 32,
              "hconcat": [
                {
                  "width": 147, "height": 150,
                  "data": {"name": "n50"},
                  "encoding": {
                    "x": {"field": "time", "type": "quantitative", "scale": {"domain": [0, 1]}, "axis": {"values": [0, 0.5, 1], "format": "~g", "labelPadding": 16, "labelFlush": false, "title": null}},
                    "y": {"field": "p", "type": "quantitative", "scale": {"domain": [0, 1]}, "axis": {"values": [0, 0.5, 1], "format": "~g", "labelPadding": 12, "title": ["Pressure,", "normalized"], "titleX": -121, "titleBaseline": "top", "titleFontSize": 30}}
                  },
                  "layer": [
                    {"transform": [{"filter": "datum.series == 'aorta'"}], "mark": {"type": "line", "color": "#e3171c", "strokeWidth": 5, "strokeCap": "round", "strokeJoin": "round"}, "encoding": {}},
                    {"transform": [{"filter": "datum.series == 'atrium'"}], "mark": {"type": "line", "color": "#1515b0", "strokeWidth": 3, "strokeDash": [11, 4, 3, 4]}, "encoding": {}}
                  ]
                },
                {
                  "width": 147, "height": 150,
                  "data": {"name": "n60"},
                  "encoding": {
                    "x": {"field": "time", "type": "quantitative", "scale": {"domain": [0, 1]}, "axis": {"values": [0, 0.5, 1], "format": "~g", "labelPadding": 16, "labelFlush": false, "title": "Time [s]", "titleY": 46, "titleBaseline": "top", "titleFontSize": 27}},
                    "y": {"field": "p", "type": "quantitative", "scale": {"domain": [0, 1]}, "axis": {"values": [0, 0.5, 1], "labels": false, "title": null}}
                  },
                  "layer": [
                    {"transform": [{"filter": "datum.series == 'aorta'"}], "mark": {"type": "line", "color": "#e3171c", "strokeWidth": 5, "strokeCap": "round", "strokeJoin": "round"}, "encoding": {}},
                    {"transform": [{"filter": "datum.series == 'atrium'"}], "mark": {"type": "line", "color": "#1515b0", "strokeWidth": 3, "strokeDash": [11, 4, 3, 4]}, "encoding": {}}
                  ]
                },
                {
                  "width": 147, "height": 150,
                  "data": {"name": "n70"},
                  "encoding": {
                    "x": {"field": "time", "type": "quantitative", "scale": {"domain": [0, 1]}, "axis": {"values": [0, 0.5, 1], "format": "~g", "labelPadding": 16, "labelFlush": false, "title": null}},
                    "y": {"field": "p", "type": "quantitative", "scale": {"domain": [0, 1]}, "axis": {"values": [0, 0.5, 1], "labels": false, "title": null}}
                  },
                  "layer": [
                    {"transform": [{"filter": "datum.series == 'aorta'"}], "mark": {"type": "line", "color": "#e3171c", "strokeWidth": 5, "strokeCap": "round", "strokeJoin": "round"}, "encoding": {}},
                    {"transform": [{"filter": "datum.series == 'atrium'"}], "mark": {"type": "line", "color": "#1515b0", "strokeWidth": 3, "strokeDash": [11, 4, 3, 4]}, "encoding": {}}
                  ]
                }
              ]
            }
          ]
        }
      ]
    }
  ],
  "config": {
    "font": "Liberation Serif",
    "view": {"stroke": "#3a3a3a", "strokeWidth": 1.3},
    "line": {"interpolate": "monotone"},
    "text": {"font": "Liberation Serif"},
    "axis": {
      "domain": false, "ticks": false, "grid": true, "gridColor": "#d6d6d6", "gridWidth": 1,
      "labelFont": "Liberation Serif", "labelFontSize": 25, "labelColor": "#111111", "labelOverlap": false,
      "titleFont": "Liberation Serif", "titleFontWeight": "normal", "titleColor": "#111111", "titleLineHeight": 33
    }
  }
}
